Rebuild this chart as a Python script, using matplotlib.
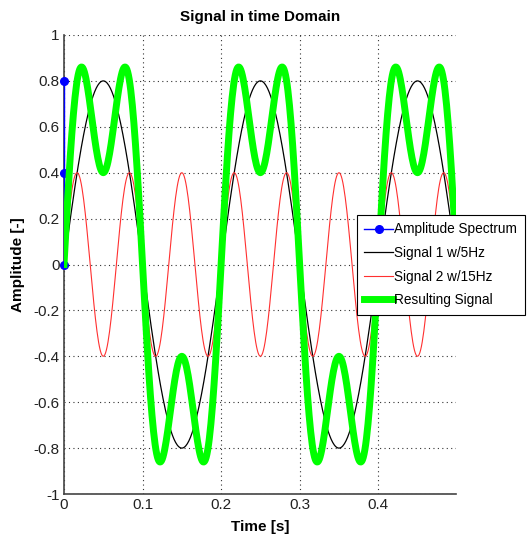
import numpy as np
import matplotlib
matplotlib.use("Agg")
import matplotlib.pyplot as plt

plt.rcParams['font.family'] = ['Liberation Sans', 'DejaVu Sans']

# ---- data ----
time_step = 0.001
time_end = 0.499
amplitudes = [0.8, 0.4]          # signal 1, signal 2
frequencies_hz = [5, 15]         # signal 1, signal 2
spectrum_x = [0.0, 0.0, 0.0]
spectrum_y = [0.8, 0.4, 0.0]
x_ticks = [0, 0.1, 0.2, 0.3, 0.4]
x_tick_labels = ['0', '0.1', '0.2', '0.3', '0.4']
y_ticks = [-1, -0.8, -0.6, -0.4, -0.2, 0, 0.2, 0.4, 0.6, 0.8, 1]
y_tick_labels = ['-1', '-0.8', '-0.6', '-0.4', '-0.2', '0', '0.2', '0.4', '0.6', '0.8', '1']
legend_labels = ['Amplitude Spectrum', 'Signal 1 w/5Hz', 'Signal 2 w/15Hz', 'Resulting Signal']

t = np.arange(0, time_end + 1e-9, time_step)
sig1 = amplitudes[0] * np.sin(2 * np.pi * frequencies_hz[0] * t)
sig2 = amplitudes[1] * np.sin(2 * np.pi * frequencies_hz[1] * t)
result = sig1 + sig2

W, H = 529, 544
fig = plt.figure(figsize=(W / 100, H / 100), dpi=100)
ax = fig.add_axes([64 / W, 1 - 494 / H, (456 - 64) / W, (494 - 35) / H])

l0, = ax.plot(spectrum_x, spectrum_y, '-', color='#0000ff', lw=1, marker='o',
              markersize=5.5, markerfacecolor='#0000ff', markeredgecolor='#0000ff',
              clip_on=False, zorder=3)
l1, = ax.plot(t, sig1, color='black', lw=0.9, zorder=3)
l2, = ax.plot(t, sig2, color='#ff3030', lw=0.8, zorder=3)
l3, = ax.plot(t, result, color='#00ff00', lw=5.0, zorder=3, solid_joinstyle='round')

ax.set_xlim(0, 0.499)
ax.set_ylim(-1, 1)
ax.set_xticks(x_ticks)
ax.set_xticklabels(x_tick_labels)
ax.set_yticks(y_ticks)
ax.set_yticklabels(y_tick_labels)
ax.tick_params(length=0, labelsize=11, colors='#222222', pad=3)
ax.grid(True, color='#333333', linestyle=(0, (1, 3)), lw=0.8)
ax.set_axisbelow(True)
for s in ['top', 'right']:
    ax.spines[s].set_visible(False)
for s in ['left', 'bottom']:
    ax.spines[s].set_color('#444444')
    ax.spines[s].set_linewidth(1.2)

ax.set_title('Signal in time Domain', fontsize=11, fontweight='bold', pad=10)
ax.set_xlabel('Time [s]', fontsize=11, fontweight='bold', labelpad=6)
ax.set_ylabel('Amplitude [-]', fontsize=11, fontweight='bold', labelpad=6)

leg = fig.legend([l0, l1, l2, l3], legend_labels, loc='upper left',
                 bbox_to_anchor=(357 / W, 1 - 215 / H), fontsize=9.8,
                 frameon=True, fancybox=False, handlelength=2.1,
                 handletextpad=0.1, borderpad=0.55, labelspacing=0.7,
                 borderaxespad=0)
leg.get_frame().set_edgecolor('black')
leg.get_frame().set_linewidth(0.8)
leg.get_frame().set_facecolor('white')
leg.get_frame().set_alpha(1)

fig.savefig('out.png', dpi=100)
